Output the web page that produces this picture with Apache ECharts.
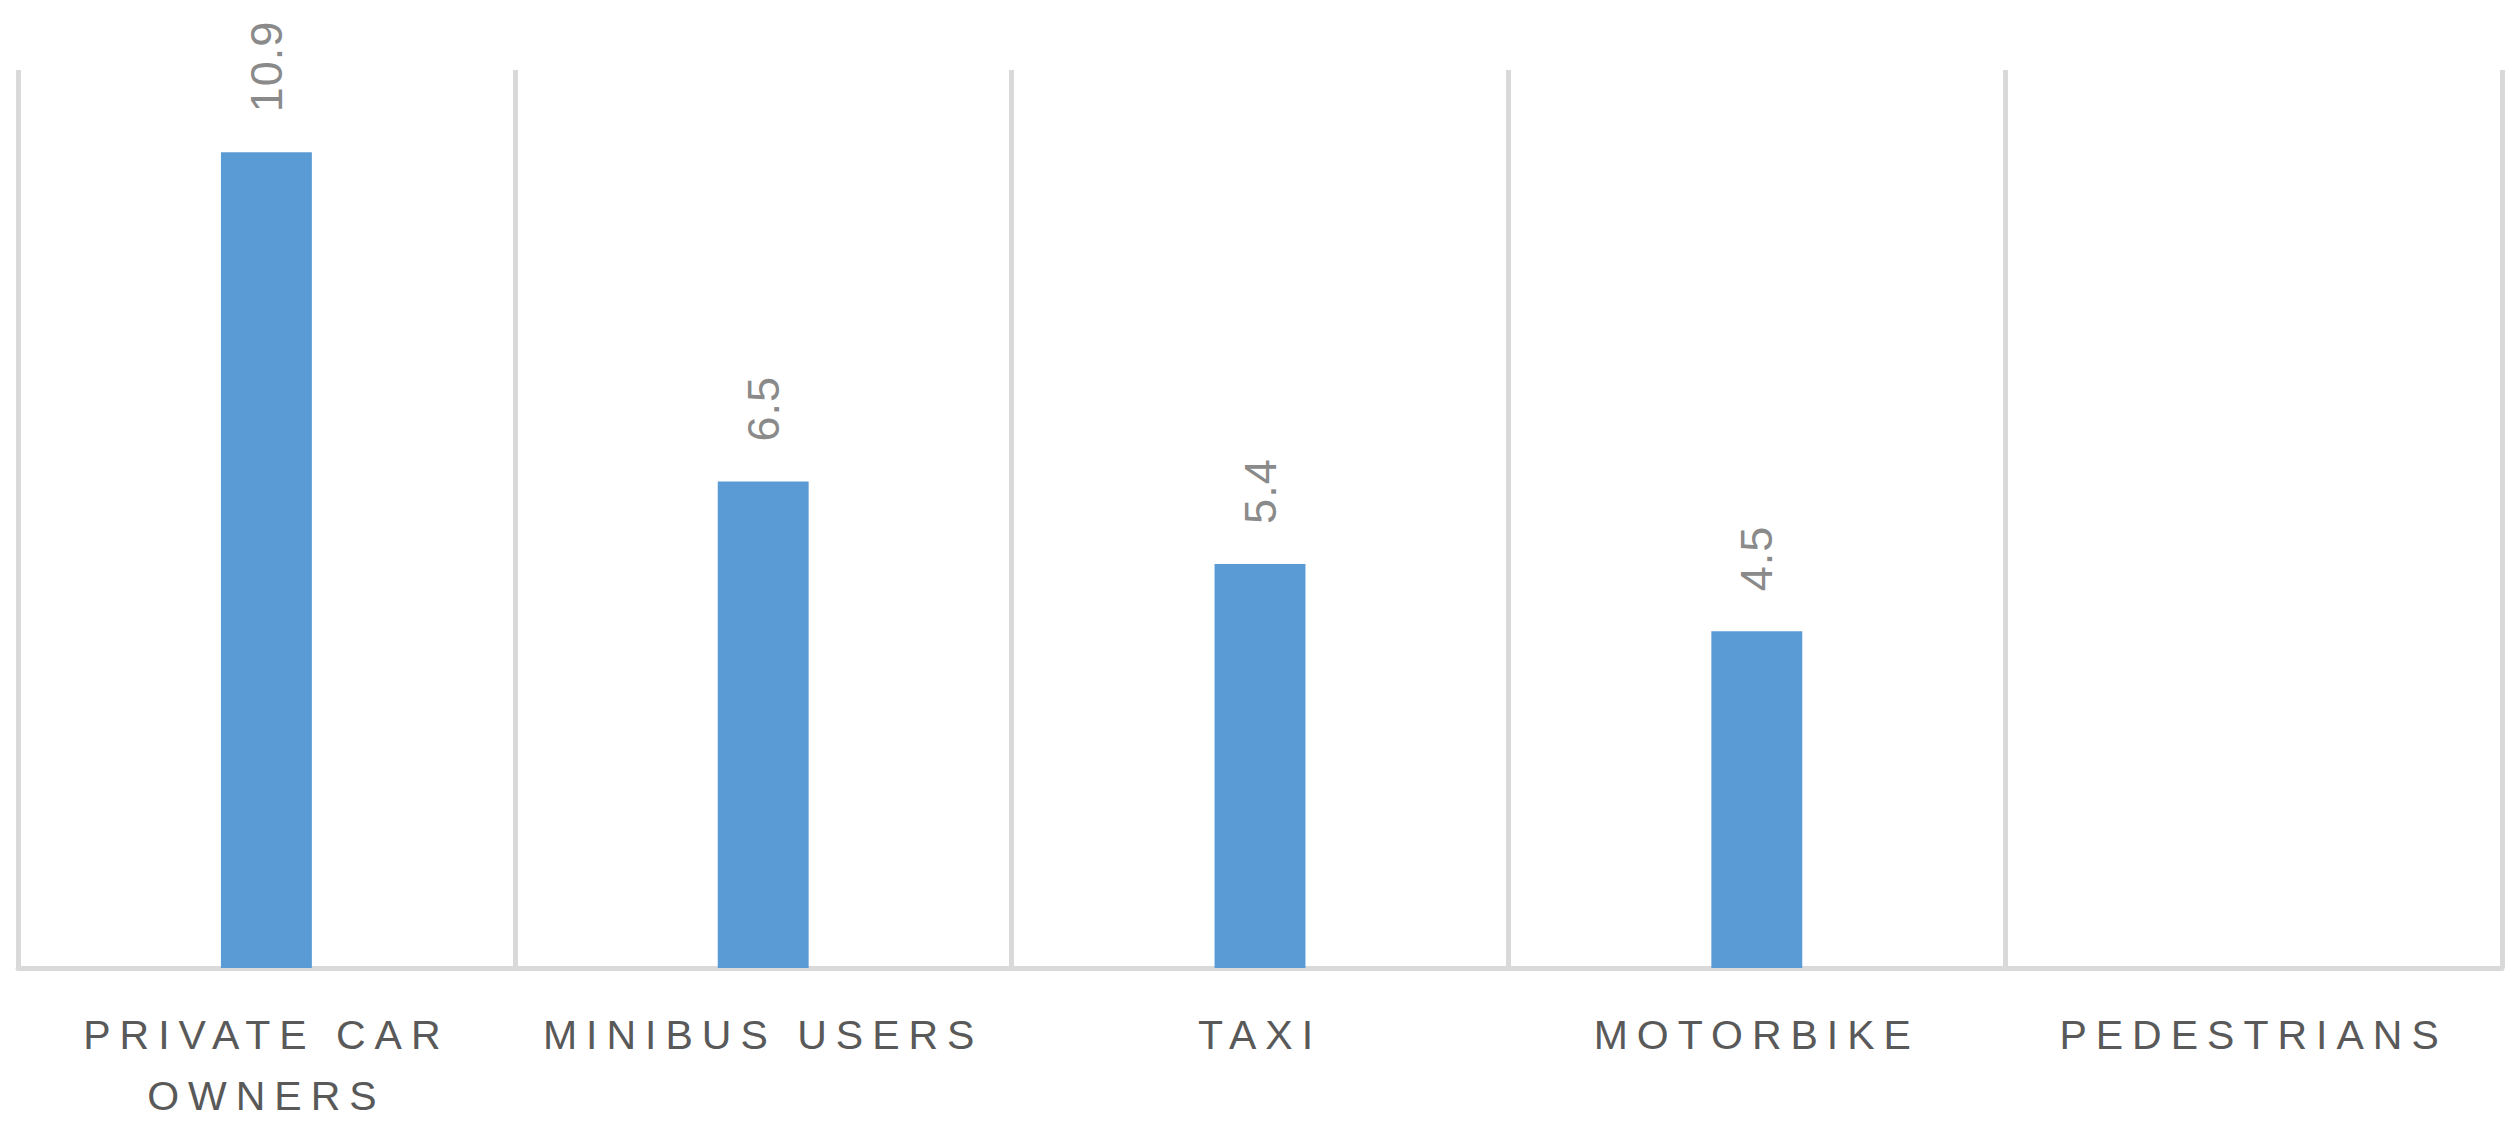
<!DOCTYPE html>
<html>
<head>
<meta charset="utf-8">
<script src="https://cdn.jsdelivr.net/npm/echarts@6/dist/echarts.min.js"></script>
<style>
  html, body { margin: 0; padding: 0; background: #ffffff; overflow: hidden; }
  #chart { width: 2509px; height: 1126px; }
  /* wide tracking on the category names, as in the original workbook style */
  #chart text[fill="#595959"] { letter-spacing: 9px; }
  #chart text[fill="#8a8a8a"] { letter-spacing: 1px; }
</style>
</head>
<body>
<div id="chart"></div>
<script>
// Transport modes and their values
const categories = ['PRIVATE CAR OWNERS', 'MINIBUS USERS', 'TAXI', 'MOTORBIKE', 'PEDESTRIANS'];
const values = [10.9, 6.5, 5.4, 4.5, null];
const valueMax = 12;

const chart = echarts.init(document.getElementById('chart'), null, { renderer: 'svg' });

// long names go onto two lines, last word on the second
function wrapName(name) {
  return name.length > 14 ? name.replace(/ (\S+)$/, '\n$1') : name;
}

chart.setOption({
  animation: false,
  backgroundColor: '#ffffff',
  grid: { left: 18, right: 7, top: 70, bottom: 147, containLabel: false },
  xAxis: {
    type: 'category',
    data: categories,
    boundaryGap: true,
    axisTick: { show: false },
    axisLine: { show: true, lineStyle: { color: '#d9d9d9', width: 5 } },
    splitLine: { show: true, lineStyle: { color: '#d9d9d9', width: 5 } },
    axisLabel: {
      interval: 0,
      margin: 36,
      color: '#595959',
      fontFamily: 'Liberation Sans, Arial, sans-serif',
      fontSize: 41,
      lineHeight: 61,
      formatter: wrapName
    }
  },
  yAxis: {
    type: 'value',
    show: false,
    min: 0,
    max: valueMax,
    splitLine: { show: false }
  },
  series: [{
    type: 'bar',
    data: values,
    barWidth: '18.3%',
    itemStyle: { color: '#5b9bd5' },
    label: {
      show: true,
      position: 'top',
      distance: 40,
      rotate: 90,
      align: 'left',
      verticalAlign: 'middle',
      color: '#8a8a8a',
      fontFamily: 'Liberation Sans, Arial, sans-serif',
      fontSize: 45
    }
  }]
});
</script>
</body>
</html>
